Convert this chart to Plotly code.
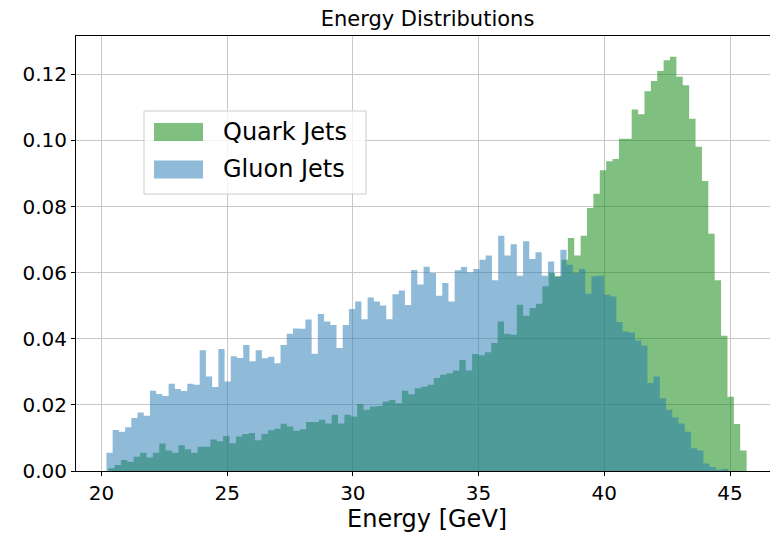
import numpy as np
import plotly.graph_objects as go

# Normalised energy histograms (density per GeV), 100 bins each
quark_density = [
    0.0008, 0.0018, 0.0033, 0.0028, 0.0043, 0.0055, 0.0041, 0.0055, 0.0083, 0.0062,
    0.0055, 0.0078, 0.0066, 0.0055, 0.0073, 0.0073, 0.0095, 0.0090, 0.0106, 0.0084,
    0.0104, 0.0112, 0.0115, 0.0093, 0.0112, 0.0123, 0.0128, 0.0143, 0.0135, 0.0122,
    0.0126, 0.0148, 0.0148, 0.0155, 0.0144, 0.0170, 0.0144, 0.0170, 0.0165, 0.0203,
    0.0185, 0.0195, 0.0197, 0.0210, 0.0215, 0.0205, 0.0243, 0.0232, 0.0250, 0.0255,
    0.0261, 0.0281, 0.0291, 0.0296, 0.0304, 0.0336, 0.0304, 0.0354, 0.0350, 0.0359,
    0.0387, 0.0452, 0.0415, 0.0412, 0.0503, 0.0470, 0.0493, 0.0506, 0.0559, 0.0599,
    0.0589, 0.0639, 0.0705, 0.0652, 0.0712, 0.0796, 0.0839, 0.0910, 0.0937, 0.0944,
    0.1005, 0.1005, 0.1094, 0.1079, 0.1149, 0.1180, 0.1210, 0.1243, 0.1253, 0.1193,
    0.1167, 0.1066, 0.0981, 0.0877, 0.0718, 0.0577, 0.0409, 0.0225, 0.0142, 0.0062,
]
gluon_density = [
    0.0055, 0.0124, 0.0119, 0.0132, 0.0160, 0.0177, 0.0167, 0.0243, 0.0233, 0.0227,
    0.0264, 0.0248, 0.0242, 0.0264, 0.0261, 0.0365, 0.0286, 0.0254, 0.0369, 0.0271,
    0.0347, 0.0342, 0.0381, 0.0332, 0.0365, 0.0341, 0.0346, 0.0326, 0.0381, 0.0415,
    0.0431, 0.0430, 0.0458, 0.0355, 0.0475, 0.0452, 0.0442, 0.0372, 0.0442, 0.0490,
    0.0513, 0.0459, 0.0525, 0.0513, 0.0501, 0.0459, 0.0535, 0.0546, 0.0502, 0.0608,
    0.0564, 0.0618, 0.0599, 0.0530, 0.0569, 0.0513, 0.0607, 0.0617, 0.0601, 0.0611,
    0.0639, 0.0652, 0.0577, 0.0712, 0.0652, 0.0686, 0.0591, 0.0695, 0.0641, 0.0662,
    0.0591, 0.0634, 0.0588, 0.0669, 0.0624, 0.0599, 0.0611, 0.0536, 0.0589, 0.0591,
    0.0533, 0.0528, 0.0451, 0.0422, 0.0419, 0.0395, 0.0380, 0.0266, 0.0286, 0.0220,
    0.0185, 0.0162, 0.0144, 0.0119, 0.0069, 0.0062, 0.0023, 0.0012, 0.0004, 0.0006,
]
# Energy span covered by each histogram's bins [GeV]
quark_range = (20.27, 45.66)
gluon_range = (20.20, 44.93)

series_names = ["Quark Jets", "Gluon Jets"]
x_ticks = [20, 25, 30, 35, 40, 45]
y_ticks = [0.00, 0.02, 0.04, 0.06, 0.08, 0.10, 0.12]

QUARK_FILL = "rgba(0,128,0,0.5)"
GLUON_FILL = "rgba(31,119,180,0.5)"
FONT = "DejaVu Sans"

W, H = 770, 535
M_L, M_R, M_T, M_B = 76, 0, 36, 64
PLOT_W, PLOT_H = W - M_L - M_R, H - M_T - M_B


def step_outline(values, lo, hi):
    """Bin edges plus heights for a stepped, filled histogram outline."""
    edges = np.linspace(lo, hi, len(values) + 1)
    heights = list(values) + [values[-1]]
    return edges, heights


def px(xp):
    return (xp - M_L) / PLOT_W


def py(yp):
    return (H - M_B - yp) / PLOT_H


fig = go.Figure()
for vals, rng, fill, name in [
    (quark_density, quark_range, QUARK_FILL, series_names[0]),
    (gluon_density, gluon_range, GLUON_FILL, series_names[1]),
]:
    ex, ey = step_outline(vals, *rng)
    fig.add_trace(go.Scatter(
        x=ex, y=ey, mode="lines", line=dict(shape="hv", width=0, color="rgba(0,0,0,0)"),
        fill="tozeroy", fillcolor=fill, name=name, showlegend=False, hoverinfo="skip",
    ))

# Legend frame, colour patches and labels
shapes = [dict(
    type="rect", xref="paper", yref="paper",
    x0=px(144), x1=px(366), y0=py(194), y1=py(111),
    line=dict(color="#cccccc", width=1), fillcolor="rgba(255,255,255,0.8)", layer="above",
)]
annotations = []
for i, (name, fill) in enumerate(zip(series_names, [QUARK_FILL, GLUON_FILL])):
    top = 123 + 37.5 * i
    shapes.append(dict(
        type="rect", xref="paper", yref="paper",
        x0=px(154), x1=px(203), y0=py(top + 18), y1=py(top),
        line=dict(width=0), fillcolor=fill, layer="above",
    ))
    annotations.append(dict(
        text=name, xref="paper", yref="paper", x=px(221), y=py(top + 9),
        xanchor="left", yanchor="middle", showarrow=False,
        font=dict(family=FONT, size=24, color="#000"),
    ))

annotations.append(dict(
    text="Energy [GeV]", xref="paper", yref="paper",
    x=px(427.5), y=py(519), xanchor="center", yanchor="middle", showarrow=False,
    font=dict(family=FONT, size=24, color="#000"),
))

axis_common = dict(
    showline=True, linecolor="#000", linewidth=1,
    ticks="outside", ticklen=4, tickwidth=1, tickcolor="#000",
    showgrid=True, gridcolor="#c8c8c8", gridwidth=1, zeroline=False,
    tickfont=dict(family=FONT, size=20, color="#000"),
)

fig.update_layout(
    width=W, height=H,
    margin=dict(l=M_L, r=M_R, t=M_T, b=M_B),
    paper_bgcolor="white", plot_bgcolor="white",
    title=dict(
        text="Energy Distributions", x=px(427.5), xref="paper", xanchor="center",
        y=1 - 19 / H, yref="container", yanchor="middle",
        font=dict(family=FONT, size=21, color="#000"),
    ),
    xaxis=dict(range=[18.99, 46.59], tickvals=x_ticks, mirror=True, **axis_common),
    yaxis=dict(range=[0, 0.1316], tickvals=y_ticks, tickformat=".2f", mirror=False, **axis_common),
    shapes=shapes, annotations=annotations, showlegend=False,
)

fig.write_html("out.html")
